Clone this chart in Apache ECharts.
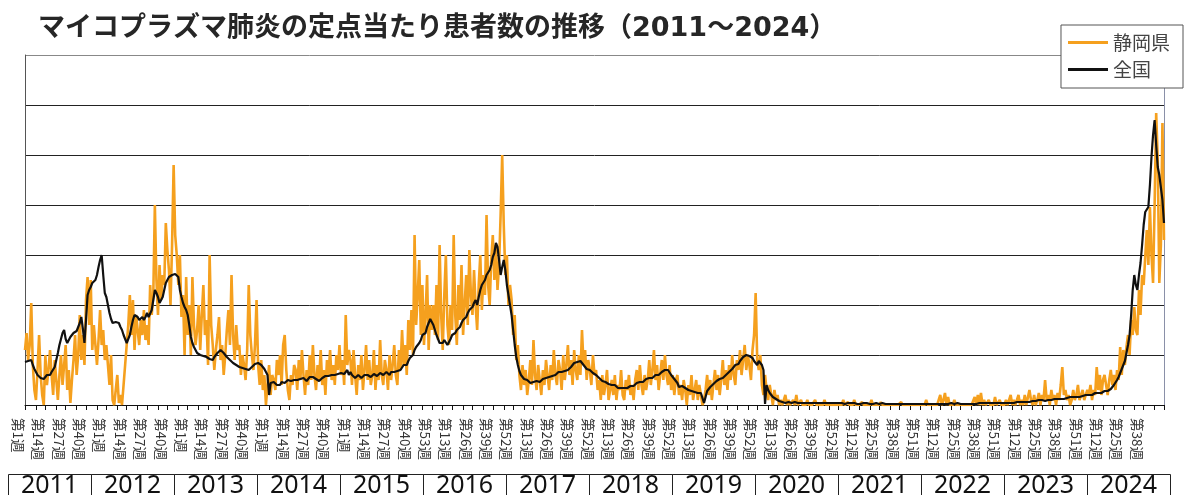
<!DOCTYPE html>
<html>
<head>
<meta charset="utf-8">
<title>マイコプラズマ肺炎の定点当たり患者数の推移</title>
<script src="https://cdn.jsdelivr.net/npm/echarts@6/dist/echarts.min.js"></script>
<style>
html, body { margin: 0; padding: 0; background: #fff; }
#chart { width: 1184px; height: 495px; }
</style>
</head>
<body>
<div id="chart"></div>
<script>
// years shown in the boxes under the axis
var years = ['2011', '2012', '2013', '2014', '2015', '2016', '2017', '2018', '2019', '2020', '2021', '2022', '2023', '2024'];
var weeksPerYear = [52, 52, 52, 52, 53, 52, 52, 52, 52, 53, 52, 52, 52, 51];

// one label every 13 weeks
var weekTickLabels = [
	'第1週', '第14週', '第27週', '第40週',
	'第1週', '第14週', '第27週', '第40週',
	'第1週', '第14週', '第27週', '第40週',
	'第1週', '第14週', '第27週', '第40週',
	'第1週', '第14週', '第27週', '第40週', '第53週',
	'第13週', '第26週', '第39週', '第52週',
	'第13週', '第26週', '第39週', '第52週',
	'第13週', '第26週', '第39週', '第52週',
	'第13週', '第26週', '第39週', '第52週',
	'第13週', '第26週', '第39週', '第52週',
	'第12週', '第25週', '第38週', '第51週',
	'第12週', '第25週', '第38週', '第51週',
	'第12週', '第25週', '第38週', '第51週',
	'第12週', '第25週', '第38週'
];

// 静岡県 (per sentinel, weekly)
var shizuoka2011 = [0.55,0.72,0.45,0.60,1.02,0.40,0.15,0.05,0.35,0.70,0.30,0.10,0.00,0.50,0.20,0.35,0.55,0.30,0.10,0.45,0.25,0.05,0.30,0.50,0.20,0.40,0.60,0.15,0.35,0.02,0.25,0.45,0.70,0.30,0.50,0.90,0.45,0.70,0.40,1.05,1.28,0.80,1.25,0.55,0.80,0.60,0.40,0.65,0.95,0.60,0.75,0.45];
var shizuoka2012 = [0.60,0.40,0.20,0.50,0.05,0.00,0.15,0.30,0.02,0.10,0.00,0.20,0.40,0.60,0.80,1.10,0.70,1.05,0.55,0.90,0.75,0.60,0.85,0.70,0.95,0.65,0.80,0.60,1.20,0.90,1.10,2.00,1.25,0.90,1.40,1.05,1.30,1.20,1.82,1.55,1.35,1.00,1.60,2.40,1.70,1.50,1.20,1.50,0.88,1.10,0.50,1.28];
var shizuoka2013 = [0.70,1.00,0.50,1.28,0.80,0.60,0.75,1.00,0.55,0.90,1.20,0.70,0.85,0.40,1.50,0.80,0.60,0.35,0.55,0.70,0.88,0.45,0.60,0.30,0.50,0.75,0.95,0.60,1.30,0.70,0.45,0.80,0.55,0.60,0.30,0.50,0.40,0.25,0.55,1.20,0.70,0.50,0.35,0.60,1.05,0.40,0.20,0.45,0.15,0.30,0.00,0.20];
var shizuoka2014 = [0.40,0.10,0.30,0.25,0.15,0.45,0.30,0.50,0.20,0.60,0.70,0.35,0.15,0.05,0.30,0.20,0.40,0.35,0.15,0.45,0.25,0.55,0.30,0.10,0.35,0.20,0.50,0.25,0.60,0.30,0.15,0.40,0.25,0.55,0.20,0.35,0.10,0.45,0.30,0.55,0.25,0.40,0.20,0.50,0.35,0.60,0.30,0.45,0.20,0.90,0.40,0.55];
var shizuoka2015 = [0.45,0.20,0.55,0.30,0.10,0.40,0.25,0.50,0.15,0.35,0.60,0.25,0.45,0.20,0.30,0.55,0.15,0.40,0.25,0.65,0.30,0.20,0.45,0.35,0.15,0.50,0.25,0.40,0.60,0.30,0.20,0.55,0.35,0.75,0.40,0.60,0.30,0.85,0.55,0.95,0.50,1.70,0.80,1.10,1.45,0.70,1.20,0.60,0.90,1.30,0.55,1.00,0.75];
var shizuoka2016 = [1.00,0.70,1.20,0.65,1.60,0.90,0.55,1.10,1.50,0.80,0.60,1.00,0.75,1.70,0.90,0.60,1.20,0.85,1.40,0.70,1.00,1.30,0.80,1.55,1.10,0.90,1.35,1.00,0.75,1.20,1.50,0.95,1.30,1.10,1.90,1.20,1.00,1.45,1.70,1.25,1.60,1.15,1.40,1.90,2.50,1.80,1.30,1.50,1.00,1.20,1.05,0.70];
var shizuoka2017 = [0.90,0.45,0.60,0.30,0.15,0.40,0.20,0.35,0.10,0.25,0.45,0.20,0.65,0.30,0.15,0.40,0.25,0.10,0.35,0.20,0.45,0.30,0.15,0.40,0.25,0.55,0.30,0.20,0.45,0.35,0.15,0.50,0.25,0.40,0.60,0.30,0.45,0.20,0.55,0.35,0.25,0.50,0.30,0.75,0.40,0.55,0.25,0.45,0.35,0.20,0.50,0.30];
var shizuoka2018 = [0.35,0.15,0.25,0.05,0.30,0.10,0.20,0.35,0.05,0.15,0.25,0.10,0.30,0.05,0.20,0.15,0.35,0.10,0.05,0.25,0.15,0.30,0.10,0.20,0.05,0.25,0.35,0.15,0.40,0.20,0.10,0.30,0.15,0.25,0.45,0.20,0.35,0.55,0.25,0.40,0.15,0.30,0.45,0.25,0.50,0.30,0.20,0.40,0.15,0.30,0.10,0.25];
var shizuoka2019 = [0.30,0.10,0.20,0.05,0.25,0.15,0.00,0.20,0.10,0.30,0.05,0.15,0.25,0.05,0.20,0.10,0.00,0.05,0.15,0.30,0.10,0.25,0.05,0.20,0.35,0.15,0.30,0.10,0.25,0.45,0.20,0.35,0.15,0.40,0.25,0.50,0.30,0.20,0.45,0.35,0.55,0.30,0.45,0.60,0.35,0.50,0.40,0.25,0.55,0.70,1.12,0.45];
var shizuoka2020 = [0.35,0.50,0.20,0.10,0.30,0.15,0.05,0.20,0.10,0.00,0.15,0.05,0.10,0.00,0.05,0.00,0.00,0.10,0.00,0.05,0.00,0.00,0.05,0.00,0.10,0.00,0.00,0.05,0.00,0.00,0.00,0.05,0.00,0.00,0.00,0.00,0.05,0.00,0.00,0.00,0.00,0.00,0.05,0.00,0.00,0.00,0.00,0.00,0.00,0.00,0.00,0.00,0.00];
var shizuoka2021 = [
	0.00,0.05,0.00,0.00,0.03,0.00,0.00,0.00,0.05,0.00,
	0.00,0.00,0.00,0.03,0.00,0.00,0.00,0.00,0.00,0.05,
	0.00,0.00,0.00,0.00,0.00,0.03,0.00,0.00,0.00,0.00,
	0.00,0.00,0.00,0.00,0.00,0.00,0.00,0.00,0.03,0.00,
	0.00,0.00,0.00,0.00,0.00,0.00,0.00,0.00,0.00,0.00,
	0.00,0.00];
var shizuoka2022 = [
	0.00,0.00,0.05,0.00,0.00,0.00,0.00,0.00,0.00,0.00,
	0.00,0.10,0.00,0.05,0.12,0.00,0.08,0.00,0.00,0.00,
	0.05,0.00,0.00,0.00,0.00,0.00,0.00,0.00,0.00,0.00,
	0.00,0.00,0.00,0.08,0.00,0.10,0.00,0.12,0.00,0.05,
	0.00,0.00,0.05,0.00,0.00,0.00,0.08,0.00,0.00,0.05,
	0.00,0.00];
var shizuoka2023 = [
	0.00,0.05,0.00,0.00,0.10,0.00,0.05,0.00,0.00,0.10,
	0.00,0.05,0.00,0.10,0.00,0.00,0.15,0.05,0.00,0.10,
	0.00,0.05,0.12,0.00,0.10,0.05,0.25,0.05,0.10,0.00,
	0.15,0.05,0.10,0.00,0.12,0.05,0.20,0.38,0.10,0.15,
	0.05,0.10,0.00,0.05,0.15,0.05,0.10,0.20,0.05,0.10,
	0.15,0.05];
var shizuoka2024 = [
	0.05,0.15,0.10,0.20,0.05,0.15,0.10,0.38,0.15,0.30,
	0.10,0.25,0.30,0.20,0.10,0.25,0.35,0.20,0.30,0.15,
	0.35,0.25,0.58,0.30,0.55,0.40,0.58,0.70,0.50,0.85,
	0.70,0.98,0.75,0.70,1.15,0.90,1.30,1.20,1.48,1.75,
	1.40,1.98,1.50,1.22,2.00,2.92,2.45,1.22,1.60,2.82,
	1.65];

// 全国 (per sentinel, weekly)
var national2011 = [0.43,0.42,0.44,0.45,0.45,0.40,0.36,0.33,0.30,0.28,0.27,0.25,0.26,0.28,0.30,0.32,0.30,0.33,0.35,0.38,0.45,0.52,0.60,0.66,0.72,0.75,0.66,0.62,0.65,0.68,0.70,0.72,0.70,0.74,0.78,0.82,0.88,0.76,0.62,0.85,1.10,1.15,1.18,1.22,1.22,1.25,1.30,1.38,1.45,1.50,1.30,1.12];
var national2012 = [1.08,1.00,0.92,0.86,0.82,0.80,0.83,0.84,0.82,0.78,0.75,0.70,0.66,0.62,0.64,0.70,0.78,0.85,0.90,0.92,0.88,0.85,0.86,0.88,0.85,0.88,0.92,0.88,0.90,0.95,1.05,1.15,1.12,1.08,1.02,1.05,1.08,1.15,1.22,1.25,1.28,1.27,1.30,1.30,1.31,1.31,1.28,1.15,1.08,1.02,0.98,0.95];
var national2013 = [0.90,0.80,0.68,0.62,0.58,0.55,0.52,0.52,0.50,0.50,0.49,0.48,0.48,0.47,0.46,0.45,0.45,0.48,0.50,0.52,0.54,0.55,0.55,0.52,0.50,0.48,0.46,0.45,0.43,0.42,0.40,0.40,0.39,0.38,0.38,0.37,0.36,0.36,0.35,0.35,0.36,0.38,0.40,0.41,0.42,0.42,0.42,0.40,0.38,0.36,0.35,0.30];
var national2014 = [0.10,0.22,0.22,0.23,0.22,0.20,0.18,0.20,0.23,0.25,0.22,0.24,0.25,0.26,0.24,0.23,0.25,0.27,0.25,0.24,0.26,0.28,0.27,0.25,0.24,0.26,0.28,0.30,0.28,0.27,0.26,0.25,0.24,0.26,0.27,0.28,0.29,0.30,0.29,0.28,0.30,0.32,0.30,0.29,0.31,0.33,0.32,0.30,0.31,0.33,0.35,0.30];
var national2015 = [0.33,0.30,0.28,0.27,0.28,0.30,0.29,0.27,0.28,0.30,0.32,0.30,0.29,0.28,0.30,0.31,0.30,0.29,0.30,0.32,0.31,0.30,0.32,0.33,0.31,0.30,0.33,0.35,0.33,0.32,0.34,0.36,0.35,0.37,0.40,0.42,0.40,0.44,0.47,0.45,0.50,0.55,0.58,0.60,0.62,0.65,0.70,0.68,0.72,0.78,0.82,0.86,0.84];
var national2016 = [0.80,0.75,0.70,0.66,0.62,0.60,0.62,0.65,0.63,0.60,0.62,0.66,0.70,0.68,0.72,0.75,0.73,0.78,0.82,0.85,0.83,0.88,0.92,0.95,0.93,0.98,1.02,1.05,1.00,1.08,1.15,1.20,1.18,1.25,1.30,1.28,1.35,1.40,1.48,1.52,1.62,1.58,1.45,1.30,1.38,1.45,1.35,1.20,1.10,1.00,0.90,0.75];
var national2017 = [0.60,0.48,0.40,0.34,0.30,0.28,0.26,0.24,0.25,0.23,0.22,0.24,0.23,0.22,0.24,0.25,0.23,0.24,0.26,0.25,0.27,0.26,0.28,0.30,0.29,0.31,0.30,0.32,0.33,0.31,0.33,0.35,0.34,0.36,0.35,0.37,0.38,0.40,0.42,0.40,0.43,0.45,0.44,0.42,0.40,0.38,0.36,0.37,0.35,0.33,0.32,0.30];
var national2018 = [0.30,0.28,0.27,0.25,0.24,0.25,0.23,0.22,0.21,0.22,0.20,0.19,0.20,0.18,0.17,0.18,0.17,0.16,0.17,0.18,0.17,0.18,0.19,0.20,0.19,0.21,0.22,0.21,0.23,0.24,0.23,0.25,0.26,0.25,0.27,0.28,0.27,0.29,0.30,0.31,0.30,0.32,0.33,0.34,0.35,0.36,0.35,0.33,0.30,0.28,0.26,0.25];
var national2019 = [0.22,0.18,0.20,0.19,0.18,0.17,0.16,0.15,0.16,0.14,0.15,0.13,0.14,0.12,0.13,0.12,0.10,0.02,0.08,0.14,0.16,0.18,0.20,0.21,0.22,0.24,0.25,0.26,0.28,0.27,0.29,0.30,0.31,0.33,0.35,0.36,0.38,0.40,0.42,0.41,0.44,0.46,0.48,0.47,0.50,0.52,0.49,0.51,0.47,0.44,0.42,0.40];
var national2020 = [0.44,0.42,0.40,0.35,0.01,0.20,0.15,0.12,0.10,0.08,0.07,0.06,0.05,0.04,0.04,0.03,0.03,0.02,0.02,0.03,0.03,0.02,0.03,0.03,0.02,0.02,0.03,0.02,0.02,0.02,0.03,0.02,0.02,0.02,0.02,0.02,0.02,0.02,0.02,0.02,0.02,0.02,0.02,0.02,0.02,0.02,0.02,0.02,0.02,0.02,0.02,0.02,0.02];
var national2021 = [
	0.02,0.02,0.01,0.02,0.02,0.01,0.02,0.01,0.02,0.02,
	0.01,0.02,0.01,0.01,0.02,0.01,0.02,0.01,0.01,0.02,
	0.01,0.01,0.02,0.01,0.01,0.01,0.02,0.01,0.01,0.01,
	0.01,0.02,0.01,0.01,0.01,0.01,0.01,0.01,0.01,0.01,
	0.01,0.01,0.01,0.01,0.01,0.01,0.01,0.01,0.01,0.01,
	0.01,0.01];
var national2022 = [
	0.01,0.01,0.01,0.01,0.01,0.01,0.01,0.01,0.01,0.01,
	0.01,0.01,0.01,0.02,0.01,0.01,0.01,0.01,0.02,0.01,
	0.01,0.01,0.02,0.01,0.01,0.01,0.01,0.02,0.01,0.01,
	0.01,0.01,0.01,0.02,0.01,0.01,0.02,0.01,0.02,0.02,
	0.02,0.02,0.02,0.02,0.02,0.02,0.02,0.02,0.02,0.02,
	0.02,0.02];
var national2023 = [
	0.02,0.02,0.02,0.03,0.02,0.03,0.02,0.03,0.03,0.03,
	0.03,0.03,0.03,0.03,0.03,0.04,0.03,0.04,0.04,0.03,
	0.04,0.04,0.05,0.04,0.05,0.05,0.04,0.05,0.05,0.05,
	0.05,0.05,0.06,0.05,0.06,0.06,0.06,0.07,0.06,0.07,
	0.07,0.07,0.08,0.07,0.08,0.08,0.08,0.09,0.08,0.09,
	0.09,0.10];
var national2024 = [
	0.10,0.09,0.10,0.11,0.10,0.11,0.12,0.11,0.12,0.13,
	0.12,0.13,0.14,0.13,0.14,0.15,0.16,0.18,0.20,0.22,
	0.25,0.28,0.32,0.36,0.40,0.44,0.52,0.60,0.70,0.90,
	1.15,1.30,1.20,1.15,1.30,1.42,1.60,1.80,1.93,1.95,
	1.98,2.20,2.48,2.70,2.85,2.60,2.38,2.30,2.28,2.05,
	1.82];

var shizuoka = [].concat(shizuoka2011, shizuoka2012, shizuoka2013, shizuoka2014, shizuoka2015,
	shizuoka2016, shizuoka2017, shizuoka2018, shizuoka2019, shizuoka2020,
	shizuoka2021, shizuoka2022, shizuoka2023, shizuoka2024);
var national = [].concat(national2011, national2012, national2013, national2014, national2015,
	national2016, national2017, national2018, national2019, national2020,
	national2021, national2022, national2023, national2024);

// category per week, e.g. 2011第1週
var weeks = [];
years.forEach(function (y, i) {
	for (var w = 1; w <= weeksPerYear[i]; w++) weeks.push(y + '第' + w + '週');
});

var FONT = '"Noto Sans CJK JP", "Noto Sans", sans-serif';

// boxes with the year under the week labels
var yearBoxes = [];
years.forEach(function (y, i) {
	var x = 8 + 83 * i;
	yearBoxes.push({
		type: 'rect', silent: true,
		shape: { x: x + 0.5, y: 474.5, width: 83, height: 30 },
		style: { fill: 'none', stroke: '#222', lineWidth: 1 }
	});
	yearBoxes.push({
		type: 'text', silent: true,
		x: x + 41.5, y: 486,
		style: {
			text: y, fill: '#111', font: '25px "Noto Sans", sans-serif',
			align: 'center', verticalAlign: 'middle',
			textAlign: 'center', textVerticalAlign: 'middle'
		}
	});
});

var chart = echarts.init(document.getElementById('chart'), null, { renderer: 'canvas' });
chart.setOption({
	animation: false,
	backgroundColor: '#fff',
	title: {
		text: 'マイコプラズマ肺炎の定点当たり患者数の推移（2011～2024）',
		left: 33, top: 10,
		textStyle: { fontFamily: '"DejaVu Sans", "Noto Sans CJK JP", sans-serif', fontSize: 27, fontWeight: 'bold', color: '#262626' }
	},
	legend: {
		orient: 'vertical', right: 1, top: 25,
		icon: 'rect', itemWidth: 40, itemHeight: 3, itemGap: 8,
		padding: [8, 13, 9, 7],
		backgroundColor: '#fff', borderColor: '#555', borderWidth: 1,
		textStyle: { fontFamily: FONT, fontSize: 19, color: '#444' },
		data: ['静岡県', '全国']
	},
	grid: { left: 25, right: 20, top: 55, bottom: 90 },
	xAxis: {
		type: 'category', data: weeks, boundaryGap: false,
		axisLine: { lineStyle: { color: '#111', width: 1 } },
		axisTick: {
			length: 5, lineStyle: { color: '#111' },
			interval: function (index) { return index % 13 === 0 || index % 13 === 7; }
		},
		axisLabel: {
			rotate: -90, margin: 13, fontFamily: FONT, fontSize: 13.5, color: '#333',
			verticalAlign: 'top',
			interval: function (index) { return index % 13 === 0; },
			formatter: function (value, index) { return weekTickLabels[index / 13] || ''; }
		},
		splitLine: { show: false }
	},
	yAxis: [{
		type: 'value', min: 0, max: 3.5, interval: 0.5,
		axisLabel: { show: false }, axisTick: { show: false },
		axisLine: { show: true, lineStyle: { color: '#555' } },
		splitLine: { lineStyle: { color: ['#222', '#222', '#222', '#222', '#222', '#222', '#222', '#888'], width: 1 } }
	}, {
		type: 'value', position: 'right', min: 0, max: 3.5, interval: 0.5,
		axisLabel: { show: false }, axisTick: { show: false },
		axisLine: { show: true, lineStyle: { color: '#8a90a8' } },
		splitLine: { show: false }
	}],
	series: [{
		name: '静岡県', type: 'line', data: shizuoka, symbol: 'none',
		lineStyle: { color: '#F5A01E', width: 2.6 }, itemStyle: { color: '#F5A01E' }, z: 2
	}, {
		name: '全国', type: 'line', data: national, symbol: 'none',
		lineStyle: { color: '#111', width: 2.2 }, itemStyle: { color: '#111' }, z: 3
	}],
	graphic: yearBoxes
});
window.onresize = chart.resize;
</script>
</body>
</html>
